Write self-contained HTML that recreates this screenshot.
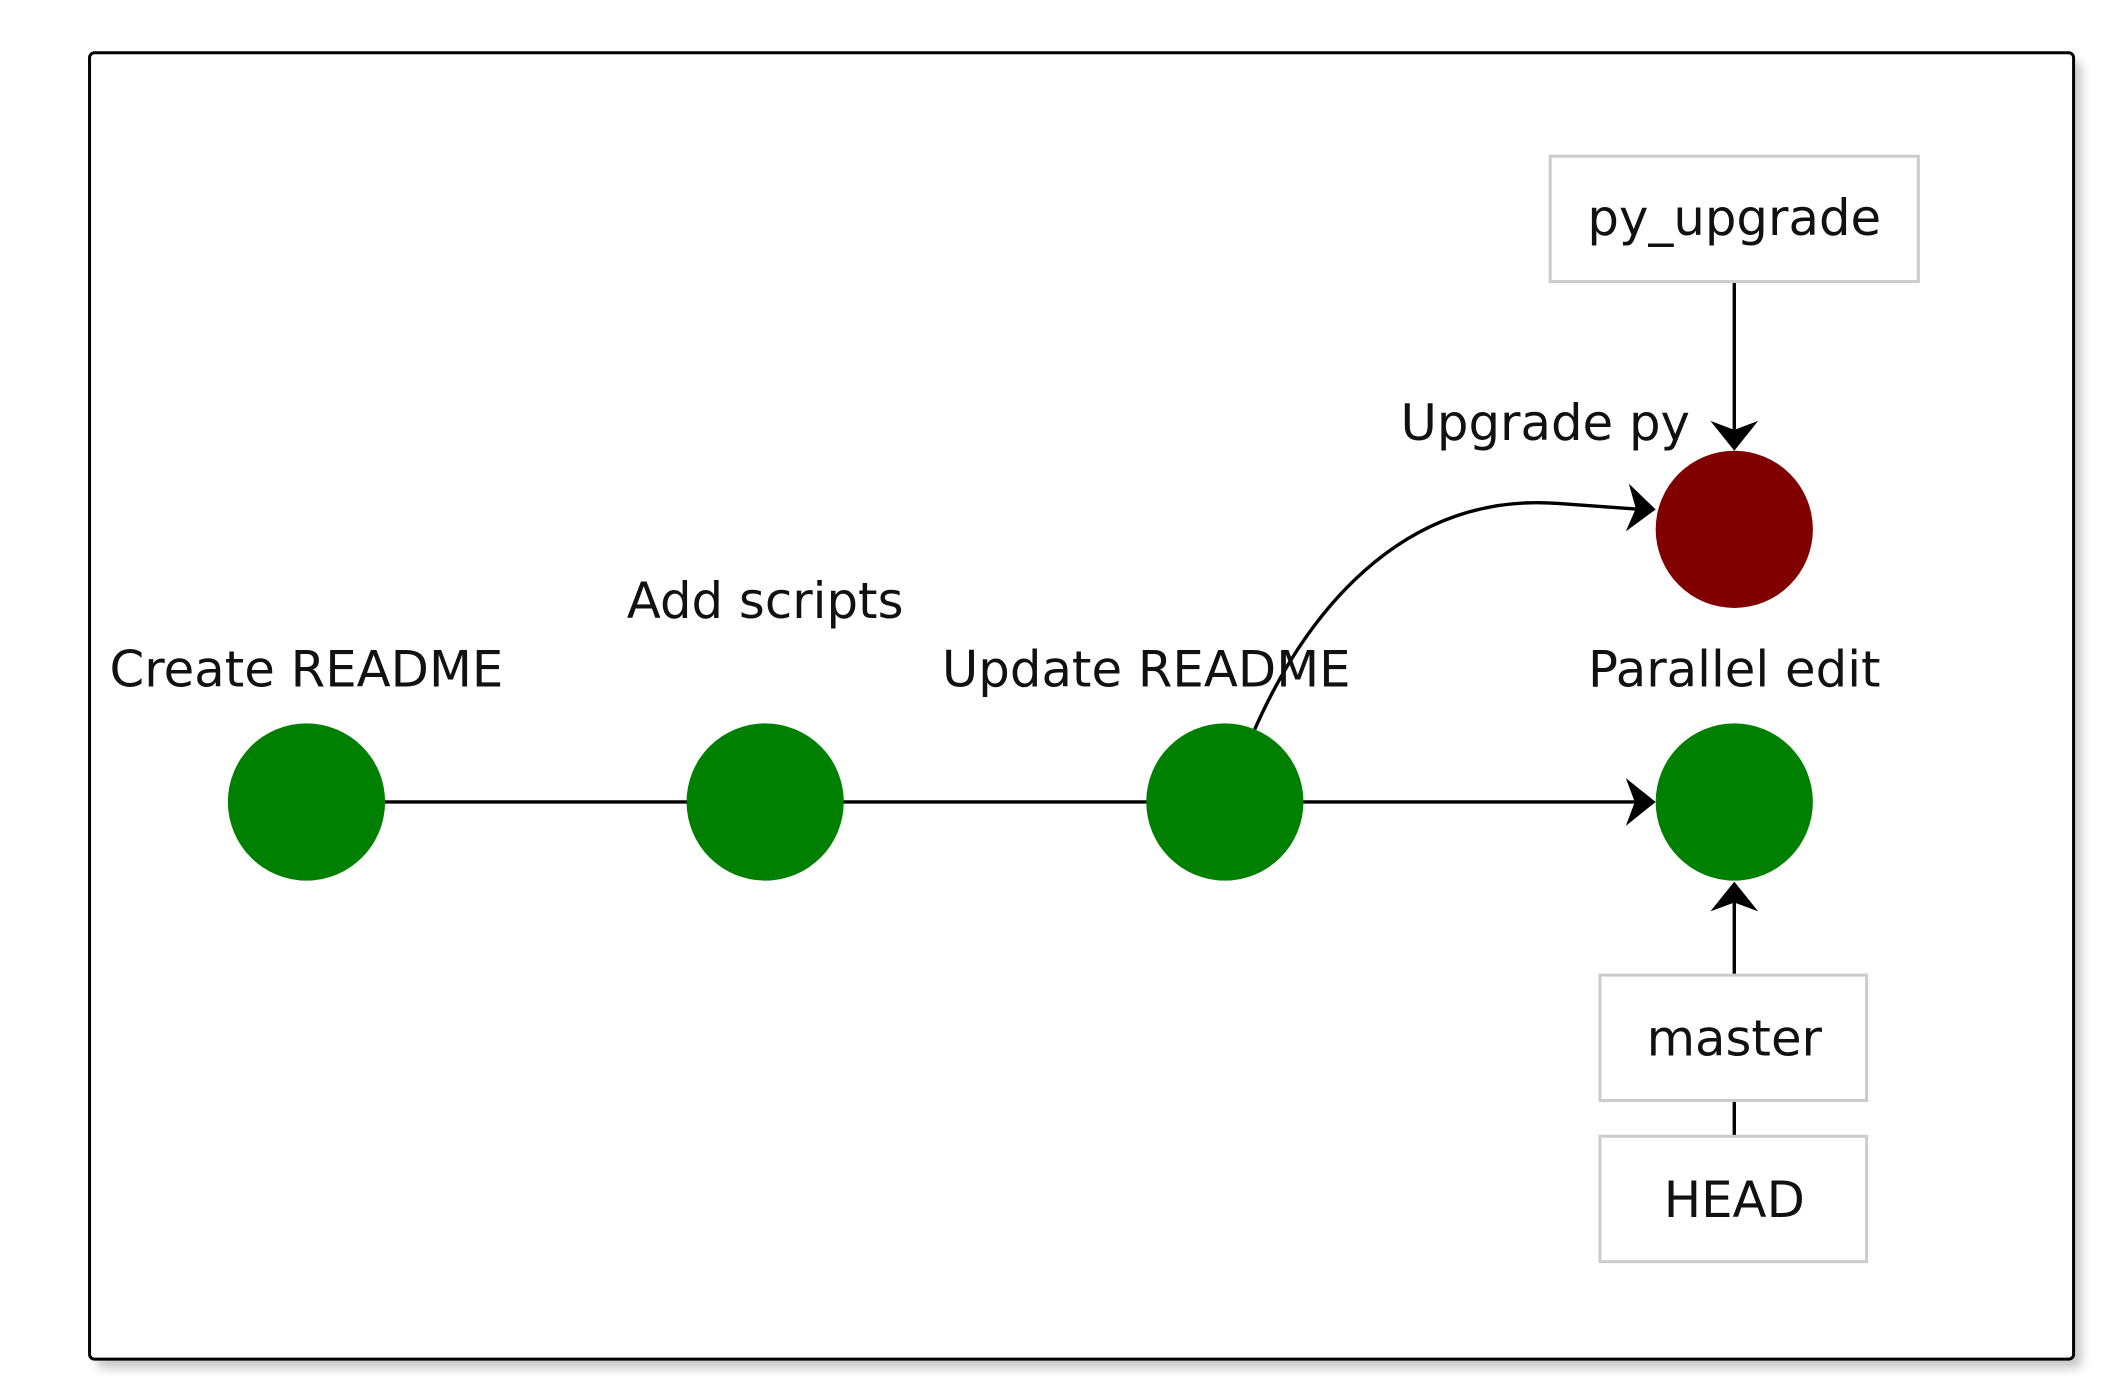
<!DOCTYPE html>
<html><head><style>html,body{margin:0;padding:0;background:#fff}</style></head>
<body>
<svg width="2124" height="1395" viewBox="0 0 2124 1395" xmlns="http://www.w3.org/2000/svg" font-family="'DejaVu Sans','Liberation Sans',sans-serif" font-size="50">
<defs>
<filter id="sh" x="-5%" y="-5%" width="110%" height="110%"><feGaussianBlur stdDeviation="5"/></filter>
</defs>
<g transform="scale(0.995)">
<rect x="98" y="62" width="1994" height="1313" rx="5" fill="#999" opacity="0.55" filter="url(#sh)"/>
<rect x="90" y="53" width="1994" height="1313" rx="5" fill="#fff" stroke="#000" stroke-width="3"/>
<g stroke="#000" stroke-width="3.4" fill="none">
<line x1="308" y1="806" x2="1231" y2="806"/>
<line x1="1231" y1="806" x2="1650" y2="806"/>
<line x1="1743" y1="283" x2="1743" y2="440"/>
<line x1="1743" y1="980" x2="1743" y2="900"/>
<line x1="1743" y1="1106" x2="1743" y2="1142"/>
<path d="M1261,733 C1320,600 1420,495 1566,506 L1650,512"/>
</g>
<g fill="#000">
<path d="M1664,806 L1634,782 L1643,806 L1634,830 Z"/>
<path d="M1743,453 L1719,423 L1743,432 L1767,423 Z"/>
<path d="M1743,886 L1719,916 L1743,907 L1767,916 Z"/>
<path d="M1664,512 L1637,486 L1644,511 L1634,534 Z"/>
</g>
<circle cx="308" cy="806" r="79" fill="#008000"/>
<circle cx="769" cy="806" r="79" fill="#008000"/>
<circle cx="1231" cy="806" r="79" fill="#008000"/>
<circle cx="1743" cy="806" r="79" fill="#008000"/>
<circle cx="1743" cy="532" r="79" fill="#800000"/>
<g fill="#fff" stroke="#ccc" stroke-width="3">
<rect x="1558" y="157" width="370" height="126"/>
<rect x="1608" y="980" width="268" height="126"/>
<rect x="1608" y="1142" width="268" height="126"/>
</g>
<g fill="#111" text-anchor="middle">
<text x="308" y="690">Create README</text>
<text x="769" y="621">Add scripts</text>
<text x="1152" y="690">Update README</text>
<text x="1743" y="690">Parallel edit</text>
<text x="1553" y="442">Upgrade py</text>
<text x="1743" y="236">py_upgrade</text>
<text x="1743" y="1061">master</text>
<text x="1743" y="1223">HEAD</text>
</g>
</g>
</svg>
</body></html>
